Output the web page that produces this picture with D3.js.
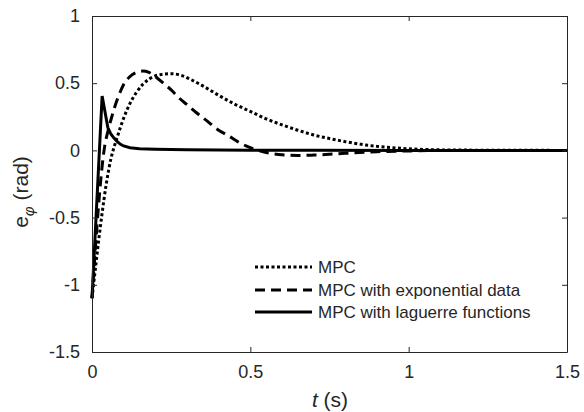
<!DOCTYPE html>
<html>
<head>
<meta charset="utf-8">
<script src="https://cdn.jsdelivr.net/npm/d3@7"></script>
<style>
  body { margin: 0; background: #fff; }
  text { font-family: "Liberation Sans", Arial, sans-serif; fill: #262626; }
</style>
</head>
<body>
<svg id="chart" width="584" height="412"></svg>
<script>
// MPC (dotted)
var mpcT = [0, 0.06, 0.08, 0.1, 0.12, 0.14, 0.16, 0.18, 0.2, 0.22, 0.25, 0.28, 0.31, 0.35, 0.4, 0.45,
    0.5, 0.55, 0.6, 0.65, 0.7, 0.75, 0.8, 0.85, 0.9, 0.95, 1.0, 1.05, 1.1, 1.2, 1.3, 1.5];
var mpcE = [-1.1, -0.06, 0.1, 0.24, 0.35, 0.43, 0.49, 0.53, 0.555, 0.565, 0.57, 0.56, 0.53, 0.48, 0.41, 0.345,
    0.29, 0.235, 0.19, 0.15, 0.115, 0.088, 0.065, 0.045, 0.03, 0.02, 0.012, 0.007, 0.004, 0.002, 0.001, 0];

// MPC with exponential data (dashed)
var expT = [0, 0.04, 0.05, 0.06, 0.07, 0.08, 0.09, 0.1, 0.12, 0.14, 0.16, 0.18, 0.2, 0.225, 0.25, 0.275,
    0.3, 0.33, 0.36, 0.4, 0.43, 0.46, 0.5, 0.55, 0.6, 0.65, 0.7, 0.8, 0.9, 1.0, 1.1, 1.5];
var expE = [-1.1, 0.03, 0.14, 0.23, 0.31, 0.38, 0.44, 0.49, 0.55, 0.58, 0.59, 0.58, 0.55, 0.5, 0.45, 0.39,
    0.34, 0.28, 0.225, 0.15, 0.11, 0.065, 0.02, -0.015, -0.033, -0.038, -0.035, -0.022, -0.01, -0.004, -0.001, 0];

// MPC with laguerre functions (solid)
var lagT = [0, 0.032, 0.05, 0.06, 0.07, 0.08, 0.09, 0.1, 0.12, 0.15, 0.2, 0.3, 0.5, 0.7, 1.0, 1.5];
var lagE = [-1.1, 0.405, 0.17, 0.12, 0.09, 0.065, 0.045, 0.033, 0.02, 0.012, 0.008, 0.005, 0.002, 0.001, 0, 0];

var xTicks = [0, 0.5, 1, 1.5];
var yTicks = [-1.5, -1, -0.5, 0, 0.5, 1];
var legendLabels = ["MPC", "MPC with exponential data", "MPC with laguerre functions"];

var svg = d3.select("#chart");
var x = d3.scaleLinear().domain([0, 1.5]).range([92, 567]);
var y = d3.scaleLinear().domain([-1.5, 1]).range([352, 16]);
var fmt = function(d) { return String(d); };

var series = [
    { t: mpcT, e: mpcE, dash: "3,2.5", curve: d3.curveMonotoneX },
    { t: expT, e: expE, dash: "10,6", curve: d3.curveMonotoneX },
    { t: lagT, e: lagE, dash: null, curve: d3.curveLinear }
];

var plot = svg.append("g");
series.forEach(function(s) {
    var pts = s.t.map(function(t, i) { return [t, s.e[i]]; });
    var line = d3.line().x(function(d) { return x(d[0]); }).y(function(d) { return y(d[1]); }).curve(s.curve);
    plot.append("path")
        .attr("d", line(pts))
        .attr("fill", "none")
        .attr("stroke", "#000")
        .attr("stroke-width", 3)
        .attr("stroke-dasharray", s.dash);
});

// axes on all four sides, ticks inward
svg.append("g").attr("transform", "translate(0,352)")
    .call(d3.axisBottom(x).tickValues(xTicks).tickSizeInner(-5).tickSizeOuter(0).tickPadding(13).tickFormat(fmt));
svg.append("g").attr("transform", "translate(0,16)")
    .call(d3.axisTop(x).tickValues(xTicks).tickSizeInner(-5).tickSizeOuter(0).tickFormat(""));
svg.append("g").attr("transform", "translate(92,0)")
    .call(d3.axisLeft(y).tickValues(yTicks).tickSizeInner(-5).tickSizeOuter(0).tickPadding(12).tickFormat(fmt));
svg.append("g").attr("transform", "translate(567,0)")
    .call(d3.axisRight(y).tickValues(yTicks).tickSizeInner(-5).tickSizeOuter(0).tickFormat(""));
svg.selectAll(".domain, .tick line").attr("stroke", "#262626");
svg.selectAll(".tick text").attr("font-size", 18).attr("fill", "#262626")
    .attr("font-family", "'Liberation Sans', Arial, sans-serif");

// x label
var xl = svg.append("text").attr("x", 330).attr("y", 407).attr("text-anchor", "middle").attr("font-size", 21);
xl.append("tspan").attr("font-style", "italic").text("t");
xl.append("tspan").text(" (s)");

// y label
var yl = svg.append("text").attr("transform", "translate(28,192) rotate(-90)")
    .attr("text-anchor", "middle").attr("font-size", 21);
yl.append("tspan").text("e");
yl.append("tspan").attr("font-style", "italic").attr("font-size", 15).attr("dy", 6).text("φ");
yl.append("tspan").attr("dy", -6).text(" (rad)");

// legend
var legend = svg.append("g");
var rowY = [267, 290, 312];
series.forEach(function(s, i) {
    legend.append("line")
        .attr("x1", 255).attr("x2", 312)
        .attr("y1", rowY[i]).attr("y2", rowY[i])
        .attr("stroke", "#000").attr("stroke-width", 3)
        .attr("stroke-dasharray", s.dash);
    legend.append("text")
        .attr("x", 318).attr("y", rowY[i] + 6)
        .attr("font-size", 17)
        .text(legendLabels[i]);
});
</script>
</body>
</html>
